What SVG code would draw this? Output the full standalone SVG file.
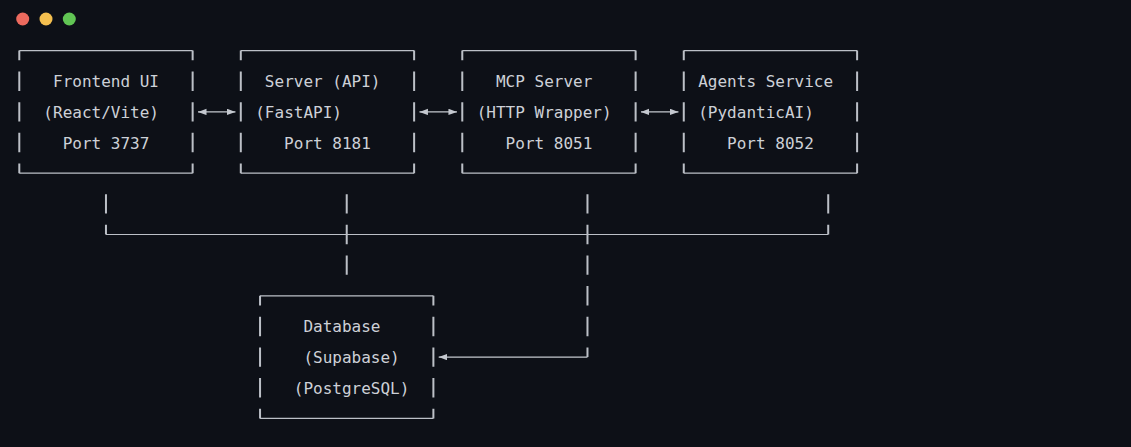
<svg xmlns="http://www.w3.org/2000/svg" width="1131" height="447" viewBox="0 0 1131 447">
<style>
  .bg { fill: #0d1017; }
  .t { font-family: "DejaVu Sans Mono", "Liberation Mono", monospace; font-size: 16px; fill: #cdd1d7; }
  .h { fill: none; stroke: #bcc0c7; stroke-width: 1.2; }
  .v { fill: none; stroke: #bcc0c7; stroke-width: 2; }
  .ar { fill: none; stroke: #c4c8cf; stroke-width: 1.2; }
</style>
<defs>
  <marker id="ah" markerUnits="userSpaceOnUse" markerWidth="9" markerHeight="7" refX="8.5" refY="3.2" orient="auto-start-reverse">
    <path d="M0,0 L8.5,3.2 L0,6.4 Z" fill="#c4c8cf"/>
  </marker>
</defs>
<rect class="bg" x="0" y="0" width="1131" height="447"/>
<g id="window-controls">
  <circle cx="22.7" cy="19" r="6.5" fill="#ec6a5e"/>
  <circle cx="46" cy="19" r="6.5" fill="#f4bf4f"/>
  <circle cx="69.3" cy="19" r="6.5" fill="#61c554"/>
</g>

<g id="node-frontend">
  <path class="h" d="M19.3 50.6 H192.64 M19.3 173.2 H192.64"/>
  <path class="v" d="M19.3 50.6 V60.3 M192.64 50.6 V60.3 M19.3 71.55 V90.95 M19.3 102.2 V121.6 M19.3 132.85 V152.25 M192.64 71.55 V90.95 M192.64 102.2 V121.6 M192.64 132.85 V152.25 M19.3 163.5 V173.2 M192.64 163.5 V173.2"/>
  <text class="t" x="53" y="87.25">Frontend UI</text>
  <text class="t" x="43.37" y="117.9">(React/Vite)</text>
  <text class="t" x="62.64" y="148.55">Port 3737</text>
</g>

<g id="node-server">
  <path class="h" d="M240.79 50.6 H414.13 M240.79 173.2 H414.13"/>
  <path class="v" d="M240.79 50.6 V60.3 M414.13 50.6 V60.3 M240.79 71.55 V90.95 M240.79 102.2 V121.6 M240.79 132.85 V152.25 M414.13 71.55 V90.95 M414.13 102.2 V121.6 M414.13 132.85 V152.25 M240.79 163.5 V173.2 M414.13 163.5 V173.2"/>
  <text class="t" x="264.86" y="87.25">Server (API)</text>
  <text class="t" x="255.24" y="117.9">(FastAPI)</text>
  <text class="t" x="284.12" y="148.55">Port 8181</text>
</g>

<g id="node-mcp">
  <path class="h" d="M462.28 50.6 H635.62 M462.28 173.2 H635.62"/>
  <path class="v" d="M462.28 50.6 V60.3 M635.62 50.6 V60.3 M462.28 71.55 V90.95 M462.28 102.2 V121.6 M462.28 132.85 V152.25 M635.62 71.55 V90.95 M635.62 102.2 V121.6 M635.62 132.85 V152.25 M462.28 163.5 V173.2 M635.62 163.5 V173.2"/>
  <text class="t" x="495.99" y="87.25">MCP Server</text>
  <text class="t" x="476.73" y="117.9">(HTTP Wrapper)</text>
  <text class="t" x="505.62" y="148.55">Port 8051</text>
</g>

<g id="node-agents">
  <path class="h" d="M683.77 50.6 H857.11 M683.77 173.2 H857.11"/>
  <path class="v" d="M683.77 50.6 V60.3 M857.11 50.6 V60.3 M683.77 71.55 V90.95 M683.77 102.2 V121.6 M683.77 132.85 V152.25 M857.11 71.55 V90.95 M857.11 102.2 V121.6 M857.11 132.85 V152.25 M683.77 163.5 V173.2 M857.11 163.5 V173.2"/>
  <text class="t" x="698.22" y="87.25">Agents Service</text>
  <text class="t" x="698.22" y="117.9">(PydanticAI)</text>
  <text class="t" x="727.1" y="148.55">Port 8052</text>
</g>

<g id="node-database">
  <path class="h" d="M260.05 295.8 H433.39 M260.05 418.4 H433.39"/>
  <path class="v" d="M260.05 295.8 V305.5 M433.39 295.8 V305.5 M260.05 316.75 V336.15 M260.05 347.4 V366.8 M260.05 378.05 V397.45 M433.39 316.75 V336.15 M433.39 347.4 V366.8 M433.39 378.05 V397.45 M260.05 408.7 V418.4 M433.39 408.7 V418.4"/>
  <text class="t" x="303.39" y="332.45">Database</text>
  <text class="t" x="303.39" y="363.1">(Supabase)</text>
  <text class="t" x="293.76" y="393.75">(PostgreSQL)</text>
</g>

<g id="connectors">
  <path class="ar" d="M198 111.9 H235.46" marker-start="url(#ah)" marker-end="url(#ah)"/>
  <path class="ar" d="M419.46 111.9 H456.95" marker-start="url(#ah)" marker-end="url(#ah)"/>
  <path class="ar" d="M640.95 111.9 H678.44" marker-start="url(#ah)" marker-end="url(#ah)"/>
  <path class="v" d="M105.97 194.15 V213.55 M346.72 194.15 V213.55 M587.47 194.15 V213.55 M828.22 194.15 V213.55"/>
  <path class="h" d="M105.97 234.5 H828.22"/>
  <path class="v" d="M105.97 224.8 V234.5 M828.22 224.8 V234.5 M346.72 224.8 V244.2 M587.47 224.8 V244.2"/>
  <path class="v" d="M346.72 255.45 V274.85 M587.47 255.45 V274.85 M587.47 286.1 V305.5 M587.47 316.75 V336.15 M587.47 347.4 V357.1"/>
  <path class="ar" d="M587.47 357.1 H438.7" marker-end="url(#ah)"/>
</g>
</svg>
